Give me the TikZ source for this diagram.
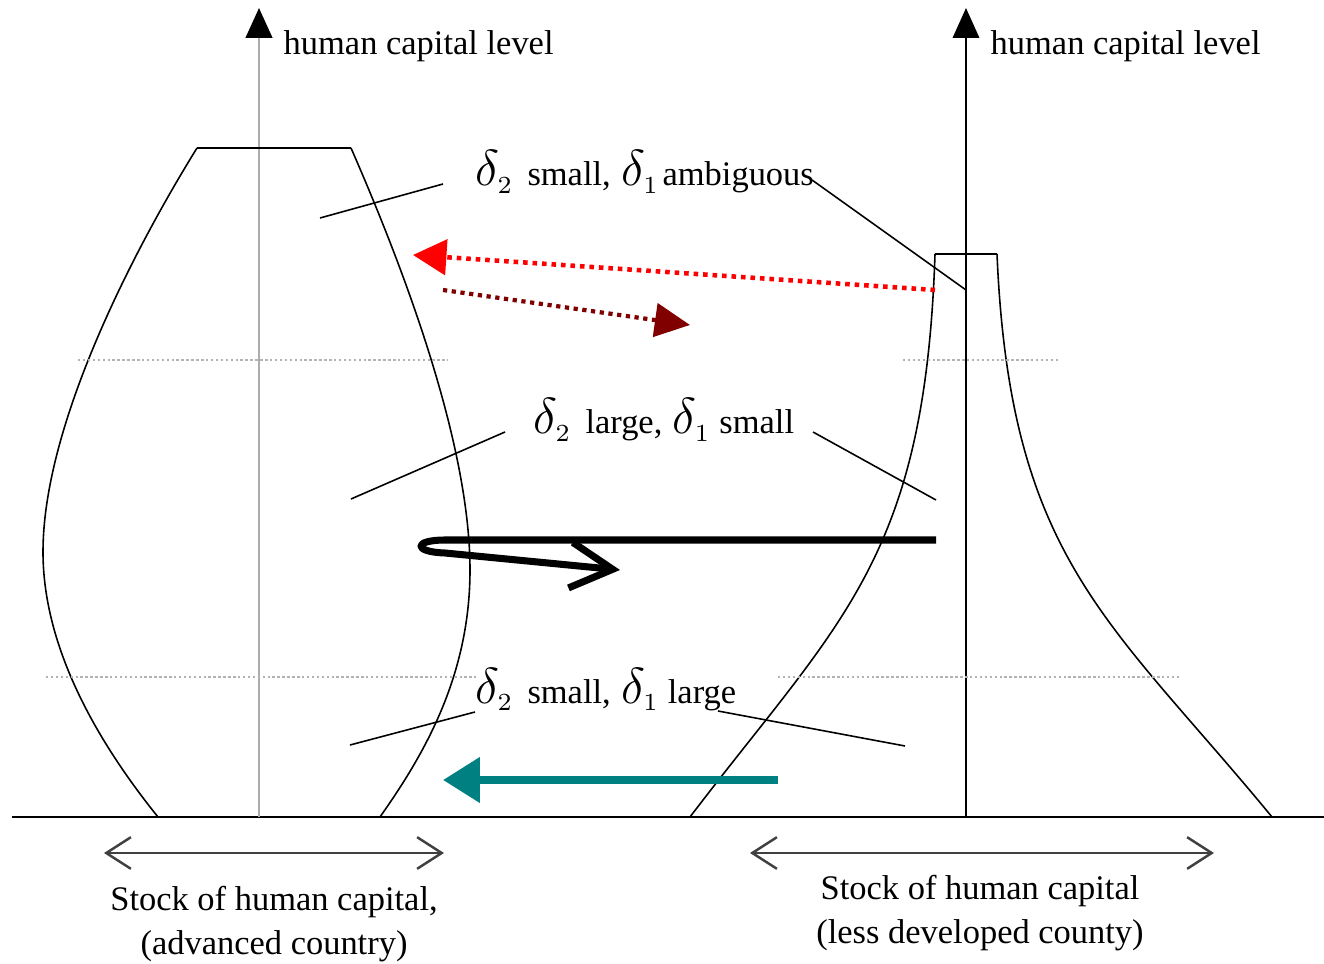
\documentclass[tikz,border=0pt]{standalone}
\usepackage{fontspec}
\setmainfont{Liberation Serif}
\usetikzlibrary{arrows.meta}
\definecolor{flowred}{RGB}{255,0,0}
\definecolor{flowdark}{RGB}{128,0,0}
\definecolor{flowteal}{RGB}{0,128,128}
\newcommand{\dsub}[1]{{\fontsize{14}{14}\selectfont$\delta_{\scriptscriptstyle #1}$}}
\tikzset{
  ground/.style={line width=0.7pt},
  axis/.style={line width=0.6pt,
    -{Triangle[length=8.5pt, width=7.5pt, color=black]}},
  outline/.style={line width=0.45pt},
  guide/.style={gray!60, line width=0.4pt, dash pattern=on 0.7pt off 0.7pt},
  leader/.style={line width=0.45pt},
  txt/.style={font=\fontsize{9.8}{12.4}\selectfont, inner sep=0pt},
  zonelabel/.style={txt, anchor=base west},
  span/.style={line width=0.7pt, black!75,
    {Straight Barb[length=7pt, width=9pt]}-{Straight Barb[length=7pt, width=9pt]}},
  flowback/.style={flowred, line width=1.3pt, dash pattern=on 1.3pt off 1.4pt,
    -{Triangle[length=9.5pt, width=10pt]}},
  flowout/.style={flowdark, line width=1.2pt, dash pattern=on 1.2pt off 1.3pt,
    -{Triangle[length=10pt, width=9.5pt]}},
  bounce/.style={line width=2pt, line join=round,
    -{Straight Barb[length=12pt, width=13pt]}},
  drain/.style={flowteal, line width=2.2pt,
    -{Triangle[length=10.5pt, width=12.5pt]}}
}

\begin{document}
\begin{tikzpicture}[x=0.01cm, y=-0.01cm]
  \useasboundingbox (0,0) rectangle (1324,964);

  % ── Ground line and axes ─────────────────────────────────────────
  \coordinate (G0) at (12,817);
  \coordinate (G1) at (1324,817);
  \coordinate (LA0) at (259,817);
  \coordinate (LA1) at (259,8);
  \coordinate (RA0) at (966,817);
  \coordinate (RA1) at (966,8);

  \draw[ground] (G0) -- (G1);
  \draw[axis, draw=gray!65, line width=0.85pt] (LA0) -- (LA1);
  \draw[axis] (RA0) -- (RA1);

  \node[zonelabel] (levL) at (283,55) {human capital level};
  \node[zonelabel] (levR) at (990,55) {human capital level};

  % ── Advanced country profile ─────────────────────────────────────
  \draw[outline] (197,148) -- (351,148);
  \draw[outline] (197,148) .. controls (140,240) and (43,420) .. (43,552)
    .. controls (43,650) and (100,745) .. (158,817);
  \draw[outline] (351,148) .. controls (400,260) and (470,440) .. (470,570)
    .. controls (470,680) and (420,760) .. (380,817);

  % ── Less developed country profile ───────────────────────────────
  \draw[outline] (935,254) -- (997,254);
  \draw[outline] (935,254) .. controls (925,560) and (840,620) .. (690,817);
  \draw[outline] (997,254) .. controls (1010,560) and (1110,620) .. (1272,817);

  % dotted level guides
  \draw[guide] (78,360) -- (448,360);
  \draw[guide] (46,677) -- (476,677);
  \draw[guide] (903,360) -- (1058,360);
  \draw[guide] (778,677) -- (1180,677);

  % ── Zone labels with leaders ─────────────────────────────────────
  \node[zonelabel] (zoneTop) at (475,186)
    {\dsub{2}\hspace{4pt}small,\hspace{3pt}\dsub{1}\hspace{1pt}ambiguous};
  \node[zonelabel] (zoneMid) at (533,434)
    {\dsub{2}\hspace{4pt}large,\hspace{3pt}\dsub{1}\hspace{2.5pt}small};
  \node[zonelabel] (zoneLow) at (475,703)
    {\dsub{2}\hspace{4pt}small,\hspace{3pt}\dsub{1}\hspace{2.5pt}large};

  \foreach \a/\b/\c/\d in {443/184/320/218, 812/180/966/290,
                          505/432/351/499, 813/432/936/500,
                          475/712/350/745, 718/711/905/746}
    { \draw[leader] (\a,\b) -- (\c,\d); }

  % ── Flows ────────────────────────────────────────────────────────
  \coordinate (backS) at (935,290);
  \coordinate (backE) at (413,255);
  \coordinate (outS) at (443,290);
  \coordinate (outE) at (690,325);
  \coordinate (bnS) at (936,540);
  \coordinate (bnE) at (620,570);
  \coordinate (drS) at (778,780);
  \coordinate (drE) at (443,780);

  \draw[flowback] (backS) -- (backE);
  \draw[flowout] (outS) -- (outE);
  \draw[bounce] (bnS) -- (445,540)
    .. controls (413,540) and (413,552) .. (445,553) -- (bnE);
  \draw[drain] (drS) -- (drE);

  % ── Stock spans ──────────────────────────────────────────────────
  \coordinate (spL0) at (104,853);
  \coordinate (spL1) at (444,853);
  \coordinate (spR0) at (750,853);
  \coordinate (spR1) at (1214,853);
  \draw[span] (spL0) -- (spL1);
  \draw[span] (spR0) -- (spR1);

  \node[txt, align=center, anchor=north] (stockL) at (274,886)
    {Stock of human capital,\\(advanced country)};
  \node[txt, align=center, anchor=north] (stockR) at (980,875)
    {Stock of human capital\\(less developed county)};
\end{tikzpicture}
\end{document}
